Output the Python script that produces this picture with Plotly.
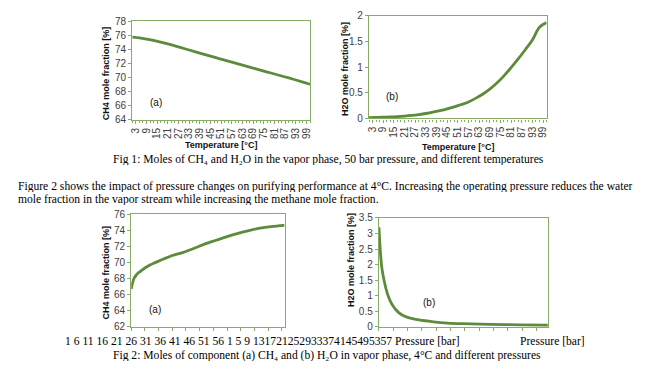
import plotly.graph_objects as go

# ---------------- data ----------------
temp_c = [1, 5, 9, 13, 17, 21, 25, 29, 33, 37, 41, 45, 49, 53, 57, 61, 65, 69, 73, 77, 81, 85, 89, 93, 97, 101]
ch4_vs_temp = [75.72, 75.62, 75.45, 75.24, 75.01, 74.75, 74.47, 74.18, 73.89, 73.60, 73.31, 73.02, 72.73,
               72.44, 72.16, 71.88, 71.60, 71.32, 71.04, 70.76, 70.48, 70.20, 69.92, 69.63, 69.33, 69.02]
h2o_vs_temp = [0.015, 0.018, 0.022, 0.028, 0.035, 0.045, 0.058, 0.075, 0.095, 0.12, 0.15, 0.185, 0.225,
               0.27, 0.32, 0.39, 0.47, 0.57, 0.69, 0.83, 0.99, 1.16, 1.34, 1.53, 1.78, 1.87]
temp_tick_labels = [3, 9, 15, 21, 27, 33, 39, 45, 51, 57, 63, 69, 75, 81, 87, 93, 99]

pressure_a = [1, 2, 3, 4, 6, 8, 10, 13, 16, 20, 24, 28, 32, 36, 40, 44, 48, 52, 57]
ch4_vs_pressure = [66.7, 68.0, 68.5, 68.8, 69.3, 69.7, 70.0, 70.45, 70.85, 71.25, 71.75, 72.3, 72.75,
                   73.2, 73.6, 73.95, 74.25, 74.45, 74.6]
pressure_b = [1, 2, 3, 4, 5, 6, 7, 8, 10, 12, 15, 20, 25, 30, 40, 50, 60]
h2o_vs_pressure = [3.2, 1.9, 1.4, 1.05, 0.82, 0.66, 0.54, 0.45, 0.34, 0.28, 0.22, 0.16, 0.12, 0.10,
                   0.08, 0.065, 0.05]
pressure_labels_a = ["1", "6", "11", "16", "21", "26", "31", "36", "41", "46", "51", "56"]
pressure_labels_b = ["1", "5", "9", "13", "17", "21", "25", "29", "33", "37", "41", "45", "49", "53", "57"]

caption1 = "Fig 1: Moles of CH₄ and H₂O in the vapor phase, 50 bar pressure, and different temperatures"
para1 = "Figure 2 shows the impact of pressure changes on purifying performance at 4°C. Increasing the operating pressure reduces the water"
para2 = "mole fraction in the vapor stream while increasing the methane mole fraction."
caption2 = "Fig 2: Moles of component (a) CH₄ and (b) H₂O in vapor phase, 4°C and different pressures"

# ---------------- layout helpers ----------------
# the page body keeps its default 8px margin, so the figure is drawn 8px in and down
OFF = 8
W, H = 647 - 2 * OFF, 373 - 2 * OFF
def fx(x):
    return (x - OFF) / W
def fy(y):
    return 1 - (y - OFF) / H

LINE = "#5C8B3B"
FRAME = "#86AD63"
SANS = "Arial, Liberation Sans, sans-serif"
SERIF = "Times New Roman, Liberation Serif, serif"
TICKFONT = dict(family=SANS, size=10, color="#404040")

def axis(domain, **kw):
    d = dict(domain=domain, showline=True, linecolor=FRAME, linewidth=1.4, mirror=True,
             ticks="outside", tickcolor=FRAME, ticklen=3, tickwidth=1, showgrid=False,
             zeroline=False, tickfont=TICKFONT, fixedrange=True)
    d.update(kw)
    return d

fig = go.Figure()
for xs, ys, xa, ya in [(temp_c, ch4_vs_temp, "x", "y"), (temp_c, h2o_vs_temp, "x2", "y2"),
                       (pressure_a, ch4_vs_pressure, "x3", "y3"), (pressure_b, h2o_vs_pressure, "x4", "y4")]:
    fig.add_trace(go.Scatter(x=xs, y=ys, mode="lines", line=dict(color=LINE, width=2.8, shape="spline"),
                             xaxis=xa, yaxis=ya, showlegend=False))

minor_t = dict(dtick=2, tick0=1, ticks="outside", ticklen=2, tickcolor=FRAME)

layout = dict(
    width=W, height=H, margin=dict(l=0, r=0, t=0, b=0),
    paper_bgcolor="white", plot_bgcolor="white",
    xaxis=axis([fx(131), fx(310)], range=[1, 101], tickmode="array", tickvals=temp_tick_labels,
               ticktext=[str(v) for v in temp_tick_labels], tickangle=-90, anchor="y", minor=minor_t),
    yaxis=axis([fy(117.3), fy(15.3)], range=[64, 78], dtick=2, anchor="x"),
    xaxis2=axis([fx(369.3), fx(548)], range=[1, 101], tickmode="array", tickvals=temp_tick_labels,
                ticktext=[str(v) for v in temp_tick_labels], tickangle=-90, anchor="y2", minor=minor_t),
    yaxis2=axis([fy(116), fy(10)], range=[0, 2], dtick=0.5, anchor="x2"),
    xaxis3=axis([fx(130), fx(284.3)], range=[1, 57], dtick=5, tick0=1, showticklabels=False, anchor="y3"),
    yaxis3=axis([fy(331.7), fy(215)], range=[62, 76], dtick=2, anchor="x3"),
    xaxis4=axis([fx(379.3), fx(549.3)], range=[1, 60], dtick=5, tick0=1, showticklabels=False, anchor="y4"),
    yaxis4=axis([fy(331.7), fy(219)], range=[0, 3.5], dtick=0.5, anchor="x4"),
)
fig.update_layout(**layout)

def note(text, x, y, size=9, family=SANS, bold=False, angle=0, xanchor="center", color="#111", height=None):
    font = dict(family=family, size=size, color=color)
    if bold:
        font["weight"] = "bold"
    kw = {}
    if height is not None:
        kw["height"] = height
    fig.add_annotation(text=text, x=fx(x), y=fy(y), xref="paper", yref="paper", showarrow=False,
                       font=font, textangle=angle, xanchor=xanchor, yanchor="middle", **kw)

# axis titles
note("CH4 mole fraction [%]", 105, 69, size=9, bold=True, angle=-90)
note("H2O mole fraction [%]", 345, 65, size=9, bold=True, angle=-90)
note("Temperature [°C]", 220.5, 143.3, size=9, bold=True)
note("Temperature [°C]", 459, 145.7, size=9, bold=True)
note("CH4 mole fraction [%]", 105, 275, size=9, bold=True, angle=-90)
note("H2O mole fraction [%]", 351.7, 263, size=9, bold=True, angle=-90)

# panel labels
note("(a)", 155, 99.3, size=10)
note("(b)", 392, 93.3, size=10)
note("(a)", 154, 314, size=10)
note("(b)", 430, 306.7, size=10)

# document text
SZ = 11.6
note(caption1, 110, 158.3, size=SZ, family=SERIF, xanchor="left", color="#000", height=12)
note(para1, 14, 186, size=SZ, family=SERIF, xanchor="left", color="#000", height=12)
note(para2, 14, 199.5, size=SZ, family=SERIF, xanchor="left", color="#000", height=12)

bottom_line = " ".join(pressure_labels_a) + " " + " ".join(pressure_labels_b[:3]) + " " + "".join(pressure_labels_b[3:]) + " Pressure [bar]"
note(bottom_line, 61, 346.5, size=SZ, family=SERIF, xanchor="left", color="#000", height=12)
note("Pressure [bar]", 519, 346.5, size=SZ, family=SERIF, xanchor="left", color="#000", height=12)
note(caption2, 110, 360.5, size=SZ, family=SERIF, xanchor="left", color="#000", height=12)

fig.write_html("out.html")
